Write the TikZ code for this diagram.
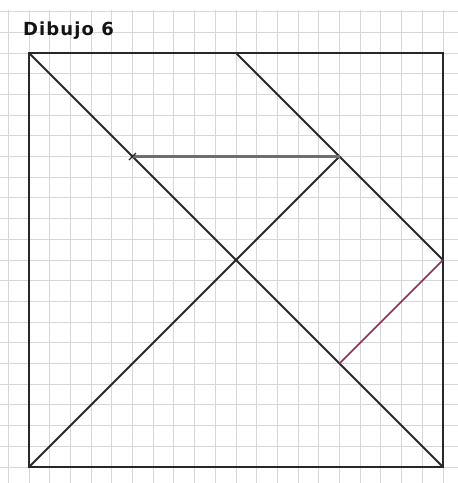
\documentclass[tikz,border=0pt]{standalone}
\usepackage{fontspec}
\setmainfont{Liberation Sans}
\newfontfamily\titlefont[LetterSpace=6]{DejaVu Sans}
\usetikzlibrary{calc}
\definecolor{gridc}{RGB}{215,215,215}
\definecolor{edge}{RGB}{40,40,40}
\definecolor{midgray}{RGB}{110,110,110}
\definecolor{redline}{RGB}{140,50,75}
\definecolor{titlec}{RGB}{20,20,20}
\tikzset{
  gridline/.style={gridc, line width=0.9pt},
  piece/.style={edge, line width=1.8pt},
  grayline/.style={midgray, line width=2.4pt},
  redseg/.style={redline, line width=1.6pt},
  tick/.style={edge, line width=1.3pt},
  title/.style={font=\titlefont\bfseries\fontsize{18}{18}\selectfont, text=titlec, anchor=base west, inner sep=0pt}
}
\begin{document}
\begin{tikzpicture}[x=1pt,y=-1pt]
\useasboundingbox[fill=white] (0,0) rectangle (458,483);
% grid
\foreach \i in {0,...,21} {
  \draw[gridline] ({8.3+20.7*\i},10) -- ({8.3+20.7*\i},483);
}
\foreach \j in {0,...,22} {
  \draw[gridline] (0,{11.6+20.7*\j}) -- (458,{11.6+20.7*\j});
}
% key points
\coordinate (A) at (29,53);
\coordinate (B) at (443,53);
\coordinate (C) at (443,467);
\coordinate (D) at (29,467);
\coordinate (T) at (236,53);
\coordinate (R) at (443,260);
\coordinate (P) at (339.5,156.5);
\coordinate (Q) at (132.5,156.5);
\coordinate (S) at (339.5,363.5);
% title
\node[title] (ttl) at (23,35.5) {Dibujo 6};
% pieces
\draw[piece] (A) -- (B) -- (C) -- (D) -- cycle;
\draw[piece] (A) -- (C);
\draw[piece] (T) -- (R);
\draw[piece] (D) -- (P);
\draw[grayline] (Q) -- (P);
\draw[redseg] (R) -- (S);
\draw[tick] ($(Q)+(-3.5,3.5)$) -- ($(Q)+(3.5,-3.5)$);
\end{tikzpicture}
\end{document}
